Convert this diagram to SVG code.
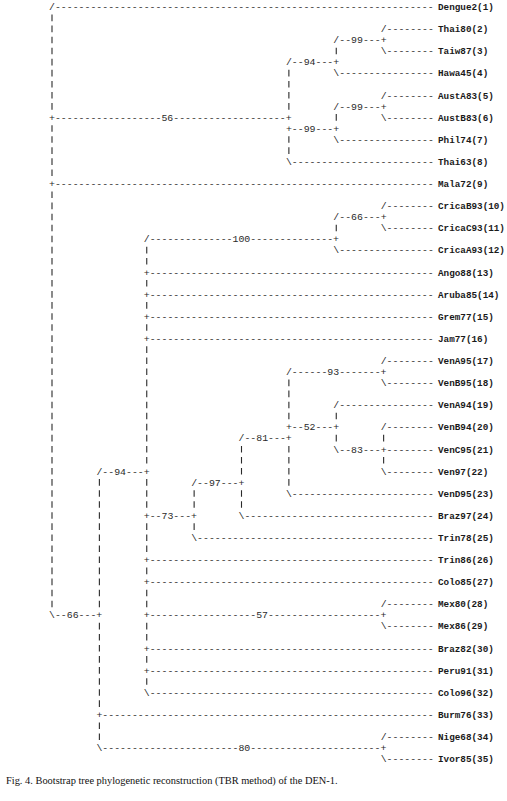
<svg xmlns="http://www.w3.org/2000/svg" width="507" height="801" viewBox="0 0 507 801">
<style>
.t{font-family:"Liberation Mono","Courier New",monospace;font-size:9.87px;fill:#2a2a2a}
.v{stroke:#2a2a2a;stroke-width:1.1;stroke-dasharray:6.6 4.46}
.lb{font-family:"Liberation Mono","Courier New",monospace;font-size:9.3px;font-weight:bold;fill:#1a1a1a}
.cap{font-family:"Liberation Serif","Times New Roman",serif;font-size:10.4px;fill:#111}
</style>
<rect width="507" height="801" fill="#fff"/>
<g id="connectors">
<text class="t" x="49.04" y="10.1">/----------------------------------------------------------------</text>
<text class="t" x="380.67" y="32.22">/--------</text>
<text class="t" x="333.3" y="43.28">/--99---+</text>
<text class="t" x="380.67" y="54.34">\--------</text>
<text class="t" x="285.92" y="65.4">/--94---+</text>
<text class="t" x="333.3" y="76.46">\----------------</text>
<text class="t" x="380.67" y="98.58">/--------</text>
<text class="t" x="333.3" y="109.64">/--99---+</text>
<text class="t" x="49.04" y="120.7">+------------------56-------------------+</text>
<text class="t" x="380.67" y="120.7">\--------</text>
<text class="t" x="285.92" y="131.76">+--99---+</text>
<text class="t" x="333.3" y="142.82">\----------------</text>
<text class="t" x="285.92" y="164.94">\------------------------</text>
<text class="t" x="49.04" y="187.06">+----------------------------------------------------------------</text>
<text class="t" x="380.67" y="209.18">/--------</text>
<text class="t" x="333.3" y="220.24">/--66---+</text>
<text class="t" x="380.67" y="231.3">\--------</text>
<text class="t" x="143.79" y="242.36">/--------------100--------------+</text>
<text class="t" x="333.3" y="253.42">\----------------</text>
<text class="t" x="143.79" y="275.54">+------------------------------------------------</text>
<text class="t" x="143.79" y="297.66">+------------------------------------------------</text>
<text class="t" x="143.79" y="319.78">+------------------------------------------------</text>
<text class="t" x="143.79" y="341.9">+------------------------------------------------</text>
<text class="t" x="380.67" y="364.02">/--------</text>
<text class="t" x="285.92" y="375.08">/------93-------+</text>
<text class="t" x="380.67" y="386.14">\--------</text>
<text class="t" x="333.3" y="408.26">/----------------</text>
<text class="t" x="285.92" y="430.38">+--52---+</text>
<text class="t" x="380.67" y="430.38">/--------</text>
<text class="t" x="238.54" y="441.44">/--81---+</text>
<text class="t" x="333.3" y="452.5">\--83---+--------</text>
<text class="t" x="96.42" y="474.62">/--94---+</text>
<text class="t" x="380.67" y="474.62">\--------</text>
<text class="t" x="191.17" y="485.68">/--97---+</text>
<text class="t" x="285.92" y="496.74">\------------------------</text>
<text class="t" x="143.79" y="518.86">+--73---+</text>
<text class="t" x="238.54" y="518.86">\--------------------------------</text>
<text class="t" x="191.17" y="540.98">\----------------------------------------</text>
<text class="t" x="143.79" y="563.1">+------------------------------------------------</text>
<text class="t" x="143.79" y="585.22">+------------------------------------------------</text>
<text class="t" x="380.67" y="607.34">/--------</text>
<text class="t" x="49.04" y="618.4">\--66---+</text>
<text class="t" x="143.79" y="618.4">+------------------57-------------------+</text>
<text class="t" x="380.67" y="629.46">\--------</text>
<text class="t" x="143.79" y="651.58">+------------------------------------------------</text>
<text class="t" x="143.79" y="673.7">+------------------------------------------------</text>
<text class="t" x="143.79" y="695.82">\------------------------------------------------</text>
<text class="t" x="96.42" y="717.94">+--------------------------------------------------------</text>
<text class="t" x="380.67" y="740.06">/--------</text>
<text class="t" x="96.42" y="751.12">\-----------------------80----------------------+</text>
<text class="t" x="380.67" y="762.18">\--------</text>
<line class="v" x1="52" y1="14.56" x2="52" y2="109.64"/>
<line class="v" x1="52" y1="125.16" x2="52" y2="176"/>
<line class="v" x1="52" y1="191.52" x2="52" y2="607.34"/>
<line class="v" x1="99.38" y1="479.08" x2="99.38" y2="607.34"/>
<line class="v" x1="99.38" y1="622.86" x2="99.38" y2="706.88"/>
<line class="v" x1="99.38" y1="722.4" x2="99.38" y2="740.06"/>
<line class="v" x1="146.75" y1="246.82" x2="146.75" y2="264.48"/>
<line class="v" x1="146.75" y1="280" x2="146.75" y2="286.6"/>
<line class="v" x1="146.75" y1="302.12" x2="146.75" y2="308.72"/>
<line class="v" x1="146.75" y1="324.24" x2="146.75" y2="330.84"/>
<line class="v" x1="146.75" y1="346.36" x2="146.75" y2="463.56"/>
<line class="v" x1="146.75" y1="479.08" x2="146.75" y2="507.8"/>
<line class="v" x1="146.75" y1="523.32" x2="146.75" y2="552.04"/>
<line class="v" x1="146.75" y1="567.56" x2="146.75" y2="574.16"/>
<line class="v" x1="146.75" y1="589.68" x2="146.75" y2="607.34"/>
<line class="v" x1="146.75" y1="622.86" x2="146.75" y2="640.52"/>
<line class="v" x1="146.75" y1="656.04" x2="146.75" y2="662.64"/>
<line class="v" x1="146.75" y1="678.16" x2="146.75" y2="684.76"/>
<line class="v" x1="194.13" y1="490.14" x2="194.13" y2="507.8"/>
<line class="v" x1="194.13" y1="523.32" x2="194.13" y2="529.92"/>
<line class="v" x1="241.5" y1="445.9" x2="241.5" y2="474.62"/>
<line class="v" x1="241.5" y1="490.14" x2="241.5" y2="507.8"/>
<line class="v" x1="288.88" y1="69.86" x2="288.88" y2="109.64"/>
<line class="v" x1="288.88" y1="136.22" x2="288.88" y2="153.88"/>
<line class="v" x1="288.88" y1="379.54" x2="288.88" y2="419.32"/>
<line class="v" x1="288.88" y1="445.9" x2="288.88" y2="485.68"/>
<line class="v" x1="336.26" y1="47.74" x2="336.26" y2="54.34"/>
<line class="v" x1="336.26" y1="114.1" x2="336.26" y2="120.7"/>
<line class="v" x1="336.26" y1="224.7" x2="336.26" y2="231.3"/>
<line class="v" x1="336.26" y1="412.72" x2="336.26" y2="419.32"/>
<line class="v" x1="336.26" y1="434.84" x2="336.26" y2="441.44"/>
<line class="v" x1="383.63" y1="434.84" x2="383.63" y2="441.44"/>
<line class="v" x1="383.63" y1="456.96" x2="383.63" y2="463.56"/>
</g>
<g id="leaf-1"><text class="lb" x="438" y="10.1">Dengue2(1)</text></g>
<g id="leaf-2"><text class="lb" x="438" y="32.22">Thai80(2)</text></g>
<g id="leaf-3"><text class="lb" x="438" y="54.34">Taiw87(3)</text></g>
<g id="leaf-4"><text class="lb" x="438" y="76.46">Hawa45(4)</text></g>
<g id="leaf-5"><text class="lb" x="438" y="98.58">AustA83(5)</text></g>
<g id="leaf-6"><text class="lb" x="438" y="120.7">AustB83(6)</text></g>
<g id="leaf-7"><text class="lb" x="438" y="142.82">Phil74(7)</text></g>
<g id="leaf-8"><text class="lb" x="438" y="164.94">Thai63(8)</text></g>
<g id="leaf-9"><text class="lb" x="438" y="187.06">Mala72(9)</text></g>
<g id="leaf-10"><text class="lb" x="438" y="209.18">CricaB93(10)</text></g>
<g id="leaf-11"><text class="lb" x="438" y="231.3">CricaC93(11)</text></g>
<g id="leaf-12"><text class="lb" x="438" y="253.42">CricaA93(12)</text></g>
<g id="leaf-13"><text class="lb" x="438" y="275.54">Ango88(13)</text></g>
<g id="leaf-14"><text class="lb" x="438" y="297.66">Aruba85(14)</text></g>
<g id="leaf-15"><text class="lb" x="438" y="319.78">Grem77(15)</text></g>
<g id="leaf-16"><text class="lb" x="438" y="341.9">Jam77(16)</text></g>
<g id="leaf-17"><text class="lb" x="438" y="364.02">VenA95(17)</text></g>
<g id="leaf-18"><text class="lb" x="438" y="386.14">VenB95(18)</text></g>
<g id="leaf-19"><text class="lb" x="438" y="408.26">VenA94(19)</text></g>
<g id="leaf-20"><text class="lb" x="438" y="430.38">VenB94(20)</text></g>
<g id="leaf-21"><text class="lb" x="438" y="452.5">VenC95(21)</text></g>
<g id="leaf-22"><text class="lb" x="438" y="474.62">Ven97(22)</text></g>
<g id="leaf-23"><text class="lb" x="438" y="496.74">VenD95(23)</text></g>
<g id="leaf-24"><text class="lb" x="438" y="518.86">Braz97(24)</text></g>
<g id="leaf-25"><text class="lb" x="438" y="540.98">Trin78(25)</text></g>
<g id="leaf-26"><text class="lb" x="438" y="563.1">Trin86(26)</text></g>
<g id="leaf-27"><text class="lb" x="438" y="585.22">Colo85(27)</text></g>
<g id="leaf-28"><text class="lb" x="438" y="607.34">Mex80(28)</text></g>
<g id="leaf-29"><text class="lb" x="438" y="629.46">Mex86(29)</text></g>
<g id="leaf-30"><text class="lb" x="438" y="651.58">Braz82(30)</text></g>
<g id="leaf-31"><text class="lb" x="438" y="673.7">Peru91(31)</text></g>
<g id="leaf-32"><text class="lb" x="438" y="695.82">Colo96(32)</text></g>
<g id="leaf-33"><text class="lb" x="438" y="717.94">Burm76(33)</text></g>
<g id="leaf-34"><text class="lb" x="438" y="740.06">Nige68(34)</text></g>
<g id="leaf-35"><text class="lb" x="438" y="762.18">Ivor85(35)</text></g>
<text class="cap" x="6" y="783.5">Fig. 4. Bootstrap tree phylogenetic reconstruction (TBR method) of the DEN-1.</text>
</svg>
